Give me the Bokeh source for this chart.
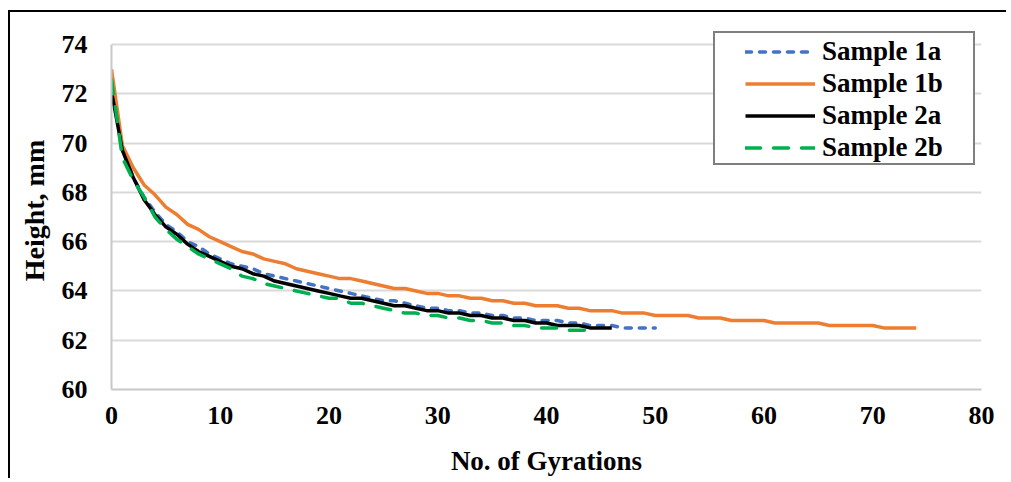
from bokeh.plotting import figure
from bokeh.models import Legend, LegendItem, FixedTicker, Range1d
from bokeh.embed import file_html
from bokeh.resources import INLINE

# ---------------- data ----------------
gyr_1a = list(range(0, 51))
height_1a = [72.3, 69.8, 68.6, 67.8, 67.2, 66.7, 66.4, 66.0, 65.8, 65.5,
             65.3, 65.1, 65.0, 64.9, 64.7, 64.6, 64.5, 64.4, 64.3, 64.2,
             64.1, 64.0, 63.9, 63.8, 63.7, 63.6, 63.6, 63.5, 63.4, 63.3,
             63.3, 63.2, 63.2, 63.1, 63.1, 63.0, 63.0, 62.9, 62.9, 62.8,
             62.8, 62.8, 62.7, 62.7, 62.6, 62.6, 62.6, 62.5, 62.5, 62.5,
             62.5]

gyr_1b = list(range(0, 75))
height_1b = [73.0, 69.9, 69.0, 68.3, 67.9, 67.4, 67.1, 66.7, 66.5, 66.2,
             66.0, 65.8, 65.6, 65.5, 65.3, 65.2, 65.1, 64.9, 64.8, 64.7,
             64.6, 64.5, 64.5, 64.4, 64.3, 64.2, 64.1, 64.1, 64.0, 63.9,
             63.9, 63.8, 63.8, 63.7, 63.7, 63.6, 63.6, 63.5, 63.5, 63.4,
             63.4, 63.4, 63.3, 63.3, 63.2, 63.2, 63.2, 63.1, 63.1, 63.1,
             63.0, 63.0, 63.0, 63.0, 62.9, 62.9, 62.9, 62.8, 62.8, 62.8,
             62.8, 62.7, 62.7, 62.7, 62.7, 62.7, 62.6, 62.6, 62.6, 62.6,
             62.6, 62.5, 62.5, 62.5, 62.5]

gyr_2a = list(range(0, 47))
height_2a = [72.1, 69.7, 68.6, 67.7, 67.1, 66.6, 66.3, 65.9, 65.6, 65.4,
             65.2, 65.0, 64.9, 64.7, 64.6, 64.4, 64.3, 64.2, 64.1, 64.0,
             63.9, 63.8, 63.7, 63.7, 63.6, 63.5, 63.4, 63.4, 63.3, 63.2,
             63.2, 63.1, 63.1, 63.0, 63.0, 62.9, 62.9, 62.8, 62.8, 62.7,
             62.7, 62.6, 62.6, 62.6, 62.5, 62.5, 62.5]

gyr_2b = list(range(0, 45))
height_2b = [72.6, 69.4, 68.5, 67.8, 67.0, 66.5, 66.1, 65.8, 65.5, 65.3,
             65.1, 64.9, 64.6, 64.5, 64.3, 64.2, 64.1, 64.0, 63.9, 63.8,
             63.7, 63.7, 63.5, 63.5, 63.4, 63.3, 63.2, 63.1, 63.1, 63.0,
             63.0, 62.9, 62.9, 62.8, 62.8, 62.7, 62.7, 62.6, 62.6, 62.5,
             62.5, 62.5, 62.4, 62.4, 62.4]

series_names = ["Sample 1a", "Sample 1b", "Sample 2a", "Sample 2b"]
x_ticks = [0, 10, 20, 30, 40, 50, 60, 70, 80]
y_ticks = [60, 62, 64, 66, 68, 70, 72, 74]

FONT = "Liberation Serif"

# frame extends 13px above the 74 gridline so the legend box is not clipped
p = figure(width=998, height=468, output_backend="svg", toolbar_location=None,
           x_range=Range1d(0, 80), y_range=Range1d(60, 74.528),
           min_border_left=101, min_border_right=27, min_border_top=19,
           min_border_bottom=91)
p.styles = {"border-top": "2px solid black", "border-left": "2px solid black",
            "margin-top": "10px", "margin-left": "8px"}
p.outline_line_color = None
p.background_fill_color = "white"
p.border_fill_color = "white"

p.xgrid.visible = False
p.ygrid.grid_line_color = "#d9d9d9"
p.ygrid.grid_line_width = 2
p.ygrid.ticker = FixedTicker(ticks=y_ticks)

p.xaxis.ticker = FixedTicker(ticks=x_ticks)
p.yaxis.ticker = FixedTicker(ticks=y_ticks)
p.yaxis.bounds = (60, 74)
for ax in (p.xaxis[0], p.yaxis[0]):
    ax.axis_line_color = "#c8c8c8"
    ax.axis_line_width = 2
    ax.major_tick_line_color = None
    ax.minor_tick_line_color = None
    ax.major_tick_out = 0
    ax.major_tick_in = 0
    ax.minor_tick_out = 0
    ax.minor_tick_in = 0
    ax.major_label_text_font = FONT
    ax.major_label_text_font_style = "bold"
    ax.major_label_text_font_size = "26px"
    ax.major_label_text_color = "black"
    ax.axis_label_text_font = FONT
    ax.axis_label_text_font_style = "bold"
    ax.axis_label_text_color = "black"

p.xaxis.axis_label = "No. of Gyrations"
p.yaxis.axis_label = "Height, mm"
p.xaxis.axis_label_text_font_size = "27px"
p.yaxis.axis_label_text_font_size = "28px"
p.xaxis.major_label_standoff = 17
p.xaxis.axis_label_standoff = 19
p.yaxis.major_label_standoff = 24
p.yaxis.axis_label_standoff = 9

r1a = p.line(gyr_1a, height_1a, line_color="#4472C4", line_width=3.5,
             line_dash="6 8", line_cap="round")
r1b = p.line(gyr_1b, height_1b, line_color="#ED7D31", line_width=3.5,
             line_join="round")
r2a = p.line(gyr_2a, height_2a, line_color="black", line_width=3.5,
             line_join="round")
r2b = p.line(gyr_2b, height_2b, line_color="#00B050", line_width=3.5,
             line_dash="15 13", line_cap="round")

# invisible renderer used only for the legend frame
rbox = p.line([0, 0], [60, 60], line_alpha=0)

box = Legend(items=[LegendItem(label=" ", renderers=[rbox])],
             location=(602, 224), padding=0, spacing=0, margin=0,
             glyph_width=100, glyph_height=130, label_width=158,
             label_height=130, label_standoff=0,
             label_text_color="white",
             border_line_color="black", border_line_width=2,
             background_fill_color="white", background_fill_alpha=1)
p.add_layout(box, "center")

leg = Legend(items=[LegendItem(label=n, renderers=[r])
                    for n, r in zip(series_names, [r1a, r1b, r2a, r2b])],
             location=(634, 226), padding=0, spacing=1, margin=0,
             glyph_width=70, glyph_height=31, label_height=31,
             label_standoff=7,
             label_text_font=FONT, label_text_font_style="bold",
             label_text_font_size="27px", label_text_color="black",
             border_line_alpha=0, background_fill_alpha=0)
p.add_layout(leg, "center")

open("out.html", "w").write(file_html(p, INLINE))
